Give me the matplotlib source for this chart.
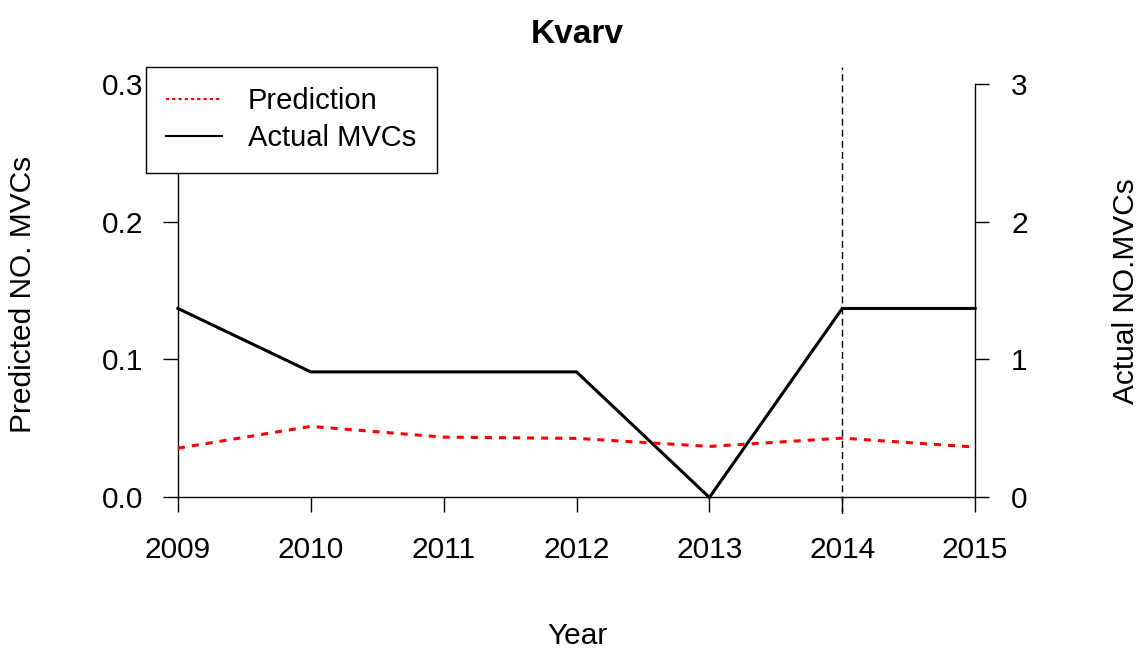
import matplotlib
matplotlib.use("Agg")
import matplotlib.pyplot as plt
from matplotlib.lines import Line2D

years = [2009, 2010, 2011, 2012, 2013, 2014, 2015]
prediction = [0.0357, 0.0515, 0.0437, 0.0428, 0.0370, 0.0430, 0.0365]
actual = [1.37, 0.91, 0.91, 0.91, 0.0, 1.37, 1.37]
left_ticks = [0.0, 0.1, 0.2, 0.3]
left_labels = ["0.0", "0.1", "0.2", "0.3"]
right_ticks = [0, 1, 2, 3]
cut_year = 2014

plt.rcParams['font.family'] = ['Liberation Sans', 'DejaVu Sans']
FS = 21.5

W, H = 1145, 651
fig = plt.figure(figsize=(W / 100, H / 100), dpi=100)
x0, x1, y0, y1 = 146, 1007, 67, 514
ax = fig.add_axes([x0 / W, 1 - y1 / H, (x1 - x0) / W, (y1 - y0) / H])

ax.set_xlim(2009 - 0.24, 2015 + 0.24)
ax.set_ylim(-0.012, 0.312)

ax2 = ax.twinx()
ax2.set_ylim(-0.12, 3.12)

for a in (ax, ax2):
    for s in a.spines.values():
        s.set_visible(False)
ax.spines['left'].set_visible(True)
ax.spines['left'].set_position(('data', 2009))
ax.spines['left'].set_bounds(0, 0.3)
ax.spines['bottom'].set_visible(True)
ax.spines['bottom'].set_position(('data', 0))
ax.spines['bottom'].set_bounds(2009, 2015)
ax2.spines['right'].set_visible(True)
ax2.spines['right'].set_position(('data', 2015))
ax2.spines['right'].set_bounds(0, 3)
for s in (ax.spines['left'], ax.spines['bottom'], ax2.spines['right']):
    s.set_linewidth(1.0)
    s.set_color('black')

ax.set_xticks(years)
ax.set_xticklabels([str(y) for y in years], fontsize=FS)
ax.set_yticks(left_ticks)
ax.set_yticklabels(left_labels, fontsize=FS)
ax2.set_yticks(right_ticks)
ax2.set_yticklabels([str(t) for t in right_ticks], fontsize=FS)
ax.tick_params(axis='x', length=11, width=1.0, pad=17, direction='out')
ax.tick_params(axis='y', length=11, width=1.0, pad=14, direction='out')
ax2.tick_params(axis='y', length=10, width=1.0, pad=16, direction='out')

ax.plot(years, prediction, color='red', lw=2.2, linestyle=(0, (2.3, 2.3)), zorder=3)
ax2.plot(years, actual, color='black', lw=2.2, solid_joinstyle='miter', zorder=3)
ax.axvline(cut_year, color='black', lw=1.0, linestyle=(0, (5, 3)))

handles = [Line2D([], [], color='red', lw=1.5, linestyle=(0, (1.5, 1.5))),
           Line2D([], [], color='black', lw=1.5)]
leg = ax.legend(handles, ['Prediction', 'Actual MVCs'], loc='upper left',
                bbox_to_anchor=(0, 1), borderaxespad=0, fontsize=21,
                fancybox=False, edgecolor='black', framealpha=1,
                handlelength=1.9, handletextpad=0.9, borderpad=0.7,
                labelspacing=0.3)
leg.get_frame().set_linewidth(1.0)
ax2.set_zorder(ax.get_zorder() - 1)
ax.patch.set_visible(False)

fig.text(577 / W, 1 - 43 / H, 'Kvarv', fontsize=24, fontweight='bold',
         ha='center', va='baseline')
fig.text(578 / W, 1 - 644 / H, 'Year', fontsize=FS, ha='center', va='baseline')
fig.text(23 / W, 1 - 294 / H, 'Predicted NO. MVCs', fontsize=FS, rotation=90,
         ha='center', va='center')
fig.text(1126 / W, 1 - 291 / H, 'Actual NO.MVCs', fontsize=FS, rotation=90,
         ha='center', va='center')

fig.savefig('out.png', dpi=100)
